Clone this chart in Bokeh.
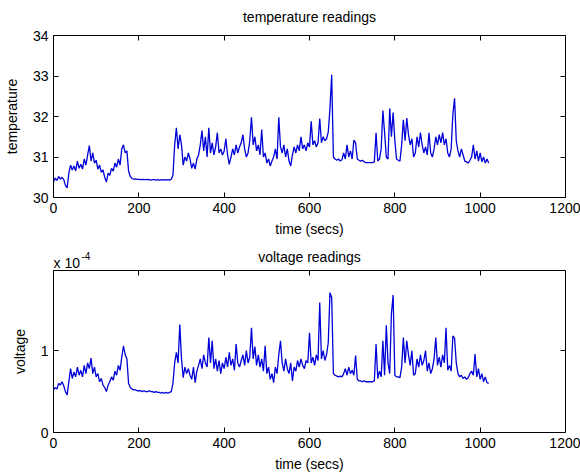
from bokeh.plotting import figure
from bokeh.layouts import column
from bokeh.models import LinearAxis, FixedTicker, CustomJSTickFormatter, Label, Range1d
from bokeh.embed import file_html
from bokeh.resources import INLINE

# ---------------- data ----------------
time_secs = list(range(0, 1024, 4))

temperature = [
    30.38, 30.48, 30.42, 30.52, 30.45, 30.50, 30.44, 30.30, 30.24, 30.60,
    30.80, 30.68, 30.78, 30.66, 30.90, 30.72, 30.82, 30.70, 30.95, 30.80,
    31.05, 31.28, 30.90, 31.10, 30.85, 30.92, 30.70, 30.80, 30.62, 30.68,
    30.50, 30.38, 30.60, 30.55, 30.72, 30.65, 30.85, 30.75, 30.95, 30.80,
    31.20, 31.30, 31.10, 31.15, 30.65, 30.52, 30.47, 30.45, 30.46, 30.45,
    30.45, 30.44, 30.45, 30.44, 30.44, 30.45, 30.44, 30.43, 30.44, 30.44,
    30.43, 30.44, 30.43, 30.44, 30.43, 30.44, 30.43, 30.44, 30.43, 30.45,
    30.55, 31.30, 31.72, 31.20, 31.55, 31.30, 30.80, 31.00, 30.90, 31.10,
    30.95, 30.72, 30.85, 30.70, 30.95, 31.05, 31.30, 31.65, 31.15, 31.50,
    31.00, 31.72, 31.10, 31.35, 31.05, 31.25, 31.60, 31.10, 31.20, 31.05,
    31.15, 31.45, 31.05, 30.82, 31.00, 31.20, 31.05, 31.30, 31.10, 31.25,
    31.35, 31.55, 31.20, 31.00, 31.10, 31.40, 31.98, 31.30, 31.50, 31.15,
    31.30, 31.05, 31.68, 31.00, 31.10, 30.85, 30.95, 30.78, 30.90, 31.00,
    31.20, 30.95, 31.98, 31.25, 31.10, 31.30, 31.00, 31.20, 30.90, 30.78,
    31.05, 31.25, 31.10, 31.30, 31.15, 31.50, 31.20, 31.30, 31.15, 31.35,
    31.25, 31.88, 31.30, 31.40, 31.25, 31.35, 31.95, 31.35, 31.50, 31.40,
    31.45, 31.62, 32.20, 33.03, 31.00, 30.95, 30.92, 30.95, 30.90, 30.93,
    31.10, 30.95, 31.30, 31.00, 31.15, 30.95, 31.42, 31.35, 30.95, 30.92,
    30.90, 30.92, 30.88, 30.86, 30.86, 30.86, 30.86, 30.86, 30.88, 31.60,
    30.90, 30.95, 31.20, 32.15, 31.60, 31.00, 30.95, 32.20, 31.50, 32.10,
    31.40, 30.95, 30.92, 30.90, 31.30, 31.92, 31.40, 31.96, 31.55, 31.30,
    31.45, 31.00, 31.10, 31.50, 31.25, 31.60, 31.30, 31.10, 31.25, 31.05,
    31.60, 31.10, 31.00, 31.20, 31.50, 31.30, 31.55, 31.35, 31.60, 31.30,
    31.45, 31.10, 31.00, 31.20, 32.05, 32.45, 31.40, 31.15, 31.00, 31.20,
    31.05, 30.90, 30.88, 30.85, 30.92, 31.00, 31.30, 30.95, 31.15, 30.90,
    31.10, 30.88, 31.00, 30.85, 30.95, 30.85,
]

# voltage in units of 1e-4
voltage_e4 = [
    0.52, 0.55, 0.53, 0.60, 0.58, 0.62, 0.57, 0.50, 0.46, 0.62,
    0.78, 0.66, 0.74, 0.68, 0.80, 0.70, 0.76, 0.68, 0.82, 0.72,
    0.85, 0.78, 0.91, 0.72, 0.80, 0.68, 0.72, 0.62, 0.66, 0.58,
    0.55, 0.50, 0.58, 0.62, 0.68, 0.64, 0.75, 0.70, 0.82, 0.76,
    0.92, 1.06, 0.95, 0.90, 0.60, 0.55, 0.53, 0.52, 0.52, 0.51,
    0.51, 0.51, 0.50, 0.51, 0.50, 0.50, 0.51, 0.50, 0.50, 0.49,
    0.50, 0.49, 0.49, 0.48, 0.49, 0.48, 0.49, 0.48, 0.49, 0.50,
    0.60, 0.85, 0.98, 0.85, 1.32, 0.90, 0.67, 0.80, 0.72, 0.78,
    0.70, 0.65, 0.80, 0.61, 0.75, 0.82, 0.90, 0.78, 0.95, 0.85,
    0.80, 1.16, 0.85, 1.12, 0.78, 0.90, 0.75, 0.88, 0.72, 0.85,
    0.78, 0.92, 0.80, 0.98, 0.82, 0.90, 0.76, 1.08, 0.85, 0.80,
    0.88, 0.95, 0.82, 1.00, 0.85, 0.92, 1.28, 0.90, 1.05, 0.82,
    0.95, 0.80, 0.90, 0.75, 1.06, 0.72, 0.80, 0.65, 0.72, 0.61,
    0.80, 0.72, 0.95, 1.12, 0.85, 0.75, 0.90, 0.78, 0.72, 0.85,
    0.63, 0.80, 0.75, 0.88, 0.80, 0.90, 0.82, 0.78, 0.88, 0.85,
    1.22, 0.85, 0.92, 0.82, 0.95, 0.88, 1.59, 0.90, 1.00, 0.88,
    0.95, 1.10, 1.71, 1.65, 0.72, 0.70, 0.69, 0.68, 0.69, 0.68,
    0.72, 0.78, 0.70, 0.80, 0.72, 0.76, 0.70, 0.94, 0.65, 0.63,
    0.63, 0.62, 0.63, 0.62, 0.62, 0.62, 0.62, 0.62, 0.63, 1.08,
    0.66, 0.75, 0.68, 1.12, 0.70, 1.31, 0.85, 0.72, 1.45, 1.68,
    0.70, 0.68, 0.68, 0.67, 0.80, 1.16, 0.85, 1.12, 0.95, 0.82,
    1.00, 0.70, 0.72, 0.90, 0.80, 0.95, 0.82, 0.88, 1.00, 0.75,
    0.85, 0.72, 0.78, 0.90, 1.16, 0.82, 0.92, 0.80, 0.95, 0.85,
    1.28, 0.76, 0.82, 0.75, 1.18, 1.15, 0.85, 0.72, 0.68, 0.70,
    0.66, 0.68, 0.65, 0.67, 0.72, 0.75, 0.70, 0.96, 0.68, 0.78,
    0.65, 0.72, 0.62, 0.68, 0.61, 0.60,
]

x_ticks = [0, 200, 400, 600, 800, 1000, 1200]
temp_ticks = [30, 31, 32, 33, 34]
volt_ticks = [0, 1]

FONT = "Liberation Sans"
TICK_FS = "14px"
LABEL_FS = "14px"
LINE_COLOR = "#0000d8"
LINE_W = 1.3


def style_axis(ax, ticks, show_labels=True):
    ax.ticker = FixedTicker(ticks=ticks)
    ax.axis_line_color = None
    ax.major_tick_in = 5
    ax.major_tick_out = 0
    ax.major_tick_line_color = "black"
    ax.minor_tick_line_color = None
    ax.major_label_text_font = FONT
    ax.major_label_text_font_size = TICK_FS
    ax.major_label_text_color = "black"
    ax.axis_label_text_font = FONT
    ax.axis_label_text_font_size = LABEL_FS
    ax.axis_label_text_font_style = "normal"
    ax.axis_label_text_color = "black"
    if not show_labels:
        ax.formatter = CustomJSTickFormatter(code="return ''")
        ax.major_label_standoff = 0
        ax.major_label_text_font_size = "0px"


def make_header(height):
    h = figure(width=580, height=height, x_range=Range1d(0, 1200),
               y_range=Range1d(0, height), output_backend="svg",
               toolbar_location=None, x_axis_type=None, y_axis_type=None,
               min_border_left=53, min_border_right=15,
               min_border_top=0, min_border_bottom=0)
    h.outline_line_color = None
    h.grid.visible = False
    return h


def make_panel(ylabel, y, yrange, yticks, height, top, bottom, title=None):
    p = figure(width=580, height=height, x_range=Range1d(0, 1200),
               y_range=Range1d(*yrange), output_backend="svg",
               toolbar_location=None,
               min_border_left=53, min_border_right=15,
               min_border_top=top, min_border_bottom=bottom)
    p.background_fill_color = "white"
    p.border_fill_color = "white"
    p.outline_line_color = "black"
    p.outline_line_width = 1
    p.grid.visible = False

    style_axis(p.xaxis[0], x_ticks)
    style_axis(p.yaxis[0], yticks)
    p.xaxis[0].axis_label = "time (secs)"
    p.xaxis[0].major_label_standoff = 5
    p.xaxis[0].axis_label_standoff = 5
    p.yaxis[0].axis_label = ylabel
    p.yaxis[0].major_label_standoff = 5
    p.yaxis[0].axis_label_standoff = 10

    top_ax = LinearAxis()
    style_axis(top_ax, x_ticks, show_labels=False)
    if title:
        top_ax.axis_label = title
        top_ax.axis_label_standoff = 11
    p.add_layout(top_ax, "above")
    right_ax = LinearAxis()
    style_axis(right_ax, yticks, show_labels=False)
    p.add_layout(right_ax, "right")

    p.line(time_secs, y, line_color=LINE_COLOR, line_width=LINE_W)
    return p


p1 = make_panel("temperature", temperature, (30, 34), temp_ticks,
                242, 35, 45, title="temperature readings")

# header strip holding the second panel's title and the x 10^-4 multiplier
hdr2 = make_header(27)
hdr2.add_layout(Label(x=600, y=13, text="voltage readings", text_font=FONT,
                      text_font_size=LABEL_FS, text_color="black",
                      text_align="center", text_baseline="alphabetic"))
hdr2.add_layout(Label(x=0, y=7, text="x 10", text_font=FONT,
                      text_font_size=LABEL_FS, text_color="black",
                      text_align="left", text_baseline="alphabetic"))
hdr2.add_layout(Label(x=0, y=14, x_offset=28, text="-4", text_font=FONT,
                      text_font_size="10px", text_color="black",
                      text_align="left", text_baseline="alphabetic"))

p2 = make_panel("voltage", voltage_e4, (0, 1.98), volt_ticks, 206, 1, 43)

layout = column(p1, hdr2, p2, spacing=0)

open("out.html", "w").write(file_html(layout, INLINE))
